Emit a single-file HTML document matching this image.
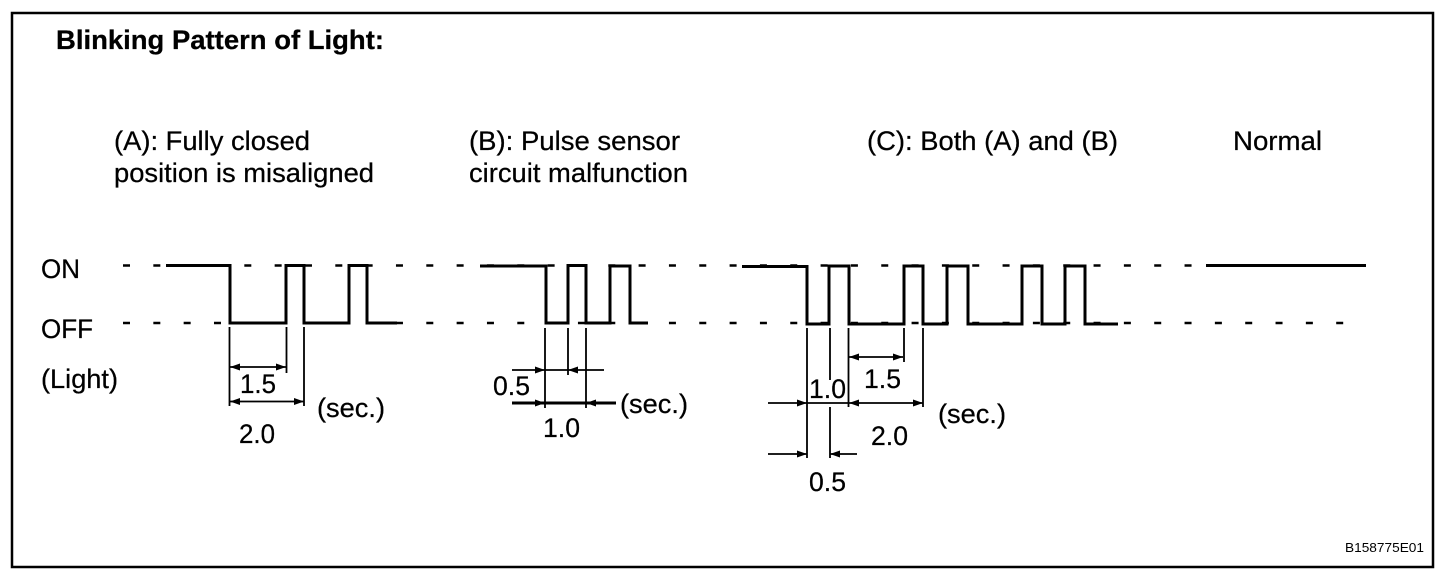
<!DOCTYPE html>
<html><head><meta charset="utf-8"><style>
html,body{margin:0;padding:0;background:#fff;width:1456px;height:578px;overflow:hidden}
svg{display:block}
text{font-family:"Liberation Sans",sans-serif;font-size:27px;fill:#000;stroke:#000;stroke-width:.25}
.w{fill:none;stroke:#000;stroke-width:3}
.d{fill:none;stroke:#000;stroke-width:2.5;stroke-dasharray:7 23.33}
.t{stroke:#000;stroke-width:1.8;fill:none}
.a{fill:#000;stroke:none}
</style></head><body>
<svg width="1456" height="578" viewBox="0 0 1456 578" xmlns="http://www.w3.org/2000/svg">
<rect x="12" y="13" width="1421" height="554" fill="#fff" stroke="#000" stroke-width="2.5"/>

<text x="56" y="49" textLength="328" lengthAdjust="spacingAndGlyphs" style="font-weight:bold">Blinking Pattern of Light:</text>
<text x="114" y="150" textLength="196" lengthAdjust="spacingAndGlyphs">(A): Fully closed</text>
<text x="114" y="182" textLength="260" lengthAdjust="spacingAndGlyphs">position is misaligned</text>
<text x="469" y="150" textLength="211" lengthAdjust="spacingAndGlyphs">(B): Pulse sensor</text>
<text x="469" y="182" textLength="219" lengthAdjust="spacingAndGlyphs">circuit malfunction</text>
<text x="867" y="150" textLength="251" lengthAdjust="spacingAndGlyphs">(C): Both (A) and (B)</text>
<text x="1233" y="150" textLength="89" lengthAdjust="spacingAndGlyphs">Normal</text>
<text x="41" y="278" textLength="39" lengthAdjust="spacingAndGlyphs">ON</text>
<text x="41" y="338" textLength="52" lengthAdjust="spacingAndGlyphs">OFF</text>
<text x="41" y="388" textLength="77" lengthAdjust="spacingAndGlyphs">(Light)</text>

<!-- dashed reference levels -->
<line class="d" x1="123" y1="265.5" x2="1195" y2="265.5"/>
<line class="d" x1="123" y1="323" x2="1345" y2="323"/>

<!-- waveforms -->
<polyline class="w" points="166,265.5 230,265.5 230,323 286,323 286,265.5 304,265.5 304,323 349,323 349,265.5 367,265.5 367,323 397,323"/>
<polyline class="w" points="480,266 546,266 546,323 568,323 568,265.5 586,265.5 586,323 610,323 610,266 630,266 630,323 648,323"/>
<polyline class="w" points="742,266.5 807,266.5 807,324 829,324 829,266 849,266 849,324 904,324 904,266 923,266 923,324 947,324 947,266 968,266 968,324 1022,324 1022,266 1042,266 1042,324 1065,324 1065,266 1085,266 1085,324 1118,324"/>
<line x1="1206" y1="265.5" x2="1366" y2="265.5" stroke="#000" stroke-width="3"/>

<!-- A dimensions -->
<path class="t" d="M229.500 327V406M286.500 327V373M304 327V406M230 367H286M230 401.500H304"/>
<path class="a" d="M230,367l10,-3.500v7zM286,367l-10,-3.500v7zM230,401.500l10,-3.500v7zM304,401.500l-10,-3.500v7z"/>
<text x="240" y="393" textLength="36" lengthAdjust="spacingAndGlyphs">1.5</text>
<text x="239" y="443" textLength="36" lengthAdjust="spacingAndGlyphs">2.0</text>
<text x="317" y="417" textLength="68" lengthAdjust="spacingAndGlyphs">(sec.)</text>

<!-- B dimensions -->
<path class="t" d="M545 328V408M568 328V375M586 328V408M512 370H604"/>
<line x1="512" y1="403" x2="616" y2="403" stroke="#000" stroke-width="3"/>
<path class="a" d="M545,370l-10,-3.500v7zM568,370l10,-3.500v7zM545,403l-10,-3.500v7zM586,403l10,-3.500v7z"/>
<text x="493" y="395" textLength="37" lengthAdjust="spacingAndGlyphs">0.5</text>
<text x="543" y="437" textLength="37" lengthAdjust="spacingAndGlyphs">1.0</text>
<text x="620" y="413" textLength="68" lengthAdjust="spacingAndGlyphs">(sec.)</text>

<!-- C dimensions -->
<path class="t" d="M807 328V458M830 328V380M830 407V458M848.500 328V407M904 328V362M923 328V407M849 357H903M768 403H848M849 403H923M768 454H807M830 454H857"/>
<path class="a" d="M849,357l10,-3.500v7zM903,357l-10,-3.500v7zM807,403l-10,-3.500v7zM849,403l10,-3.500v7zM923,403l-10,-3.500v7zM807,454l-10,-3.500v7zM830,454l10,-3.500v7z"/>
<text x="809" y="398" textLength="37" lengthAdjust="spacingAndGlyphs">1.0</text>
<text x="864" y="388" textLength="37" lengthAdjust="spacingAndGlyphs">1.5</text>
<text x="871" y="445" textLength="37" lengthAdjust="spacingAndGlyphs">2.0</text>
<text x="938" y="423" textLength="68" lengthAdjust="spacingAndGlyphs">(sec.)</text>
<text x="809" y="491" textLength="37" lengthAdjust="spacingAndGlyphs">0.5</text>

<text x="1345" y="552" textLength="79" lengthAdjust="spacingAndGlyphs" style="font-size:13px;stroke-width:0">B158775E01</text>
</svg>
</body></html>
